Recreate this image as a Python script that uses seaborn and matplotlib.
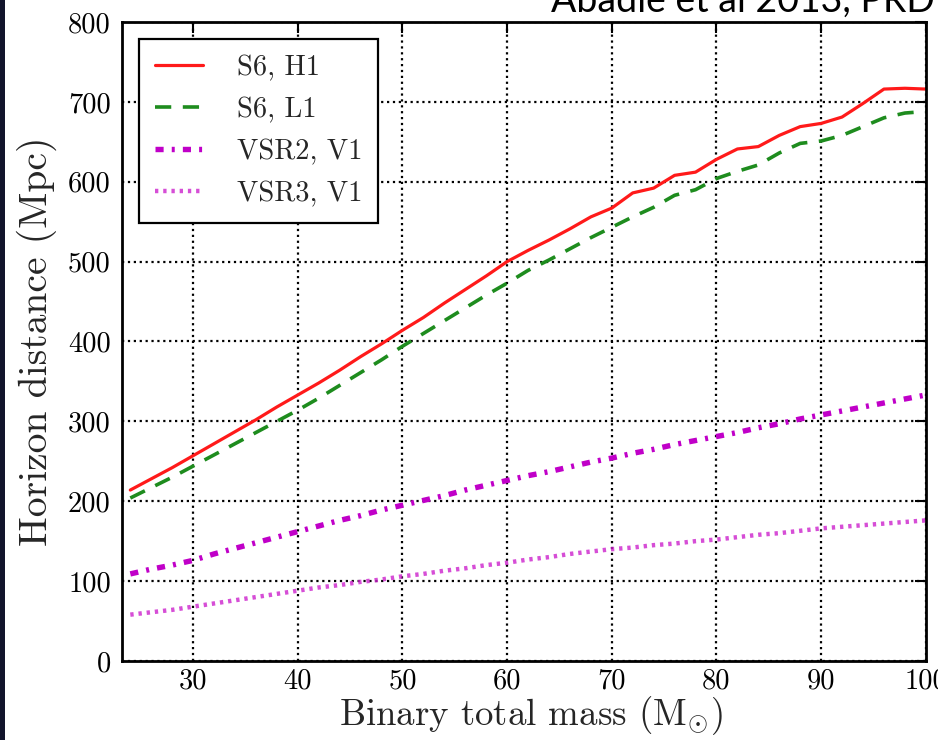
import matplotlib
matplotlib.use("Agg")
import matplotlib.pyplot as plt
import seaborn as sns
import pandas as pd
from matplotlib.patches import Rectangle

mass = [24, 26, 28, 30, 32, 34, 36, 38, 40, 42, 44, 46, 48, 50, 52, 54, 56, 58, 60,
        62, 64, 66, 68, 70, 72, 74, 76, 78, 80, 82, 84, 86, 88, 90, 92, 94, 96, 98, 100]

s6_h1 = [214, 228, 242, 257, 272, 287, 302, 318, 333, 348, 364, 381, 397, 414, 430,
         448, 465, 482, 500, 514, 527, 541, 556, 567, 586, 592, 608, 612, 628, 641,
         644, 658, 669, 673, 681, 698, 716, 717, 716]

s6_l1 = [204, 217, 230, 244, 258, 272, 286, 300, 314, 329, 345, 361, 377, 394, 410,
         426, 442, 458, 473, 489, 502, 516, 530, 543, 556, 568, 583, 590, 604, 613,
         621, 636, 648, 651, 658, 669, 680, 686, 688]

vsr2_v1 = [109, 115, 120, 126, 134, 141, 148, 155, 162, 169, 176, 182, 189, 195, 201,
           207, 214, 220, 226, 232, 237, 243, 249, 254, 260, 265, 271, 276, 281, 286,
           292, 297, 303, 308, 313, 318, 323, 328, 333]

vsr3_v1 = [58, 61, 64, 68, 72, 76, 80, 84, 88, 92, 95, 99, 102, 106, 109, 113, 116,
           120, 123, 127, 130, 134, 137, 140, 142, 145, 147, 150, 152, 155, 158, 160,
           163, 166, 168, 170, 172, 174, 176]

labels = ["S6, H1", "S6, L1", "VSR2, V1", "VSR3, V1"]
x_ticks = [30, 40, 50, 60, 70, 80, 90, 100]
y_ticks = [0, 100, 200, 300, 400, 500, 600, 700, 800]

sns.set_style("white")
plt.rcParams["font.family"] = ["cmr10", "DejaVu Serif"]
plt.rcParams["mathtext.fontset"] = "cm"
plt.rcParams["axes.formatter.use_mathtext"] = True

fig = plt.figure(figsize=(9.38, 7.40), dpi=100)
ax = fig.add_axes([0.130, 0.1068, 0.857, 0.8635])

styles = [
    dict(color="#ff1a1a", linestyle="-", lw=2.3),
    dict(color="#1e8c1e", linestyle=(0, (4.5, 3.2)), lw=2.6),
    dict(color="#c000c8", linestyle=(0, (1.5, 1.5, 0.55, 1.5)), lw=3.9),
    dict(color="#cc22cc", linestyle=(0, (0.75, 1.1)), lw=3.2, alpha=0.8),
]
series = [s6_h1, s6_l1, vsr2_v1, vsr3_v1]
for vals, lab, st in zip(series, labels, styles):
    df = pd.DataFrame({"mass": mass, "dist": vals})
    sns.lineplot(data=df, x="mass", y="dist", ax=ax, label=lab, **st)

ax.set_xlim(23.2, 100)
ax.set_ylim(0, 800)
ax.set_xticks(x_ticks)
ax.set_yticks(y_ticks)
ax.set_xticklabels([str(t) for t in x_ticks])
ax.set_yticklabels([str(t) for t in y_ticks])
ax.grid(True, color="black", linestyle=":", lw=1.6)
ax.tick_params(direction="in", length=8, width=1.5, labelsize=20.5, pad=8,
               top=True, right=True, colors="black")
ax.tick_params(axis="x", pad=5)
for sp in ax.spines.values():
    sp.set_color("black")
    sp.set_linewidth(2.0)

ax.set_xlabel(r"Binary total mass ($\mathrm{M}_{\odot}$)", fontsize=26.5, labelpad=0)
ax.xaxis.label.set_x(0.509)
ax.set_ylabel("Horizon distance (Mpc)", fontsize=28.5, labelpad=8)

leg = ax.legend(loc="upper left", fontsize=20.5, frameon=True, fancybox=False,
                framealpha=1, edgecolor="black", handlelength=1.7,
                handletextpad=1.2, labelspacing=0.55, borderpad=0.55,
                borderaxespad=0.6)
leg.get_frame().set_linewidth(1.6)

fig.text(0.997, (740 - 12) / 740, "Abadie et al 2013, PRD", ha="right",
         va="baseline", fontsize=27, family="Lato", color="black")

fig.patches.append(Rectangle((0, 0), 5 / 938, 1, transform=fig.transFigure,
                             facecolor="#12142c", edgecolor="none", zorder=10))

fig.savefig("out.png", dpi=100)
